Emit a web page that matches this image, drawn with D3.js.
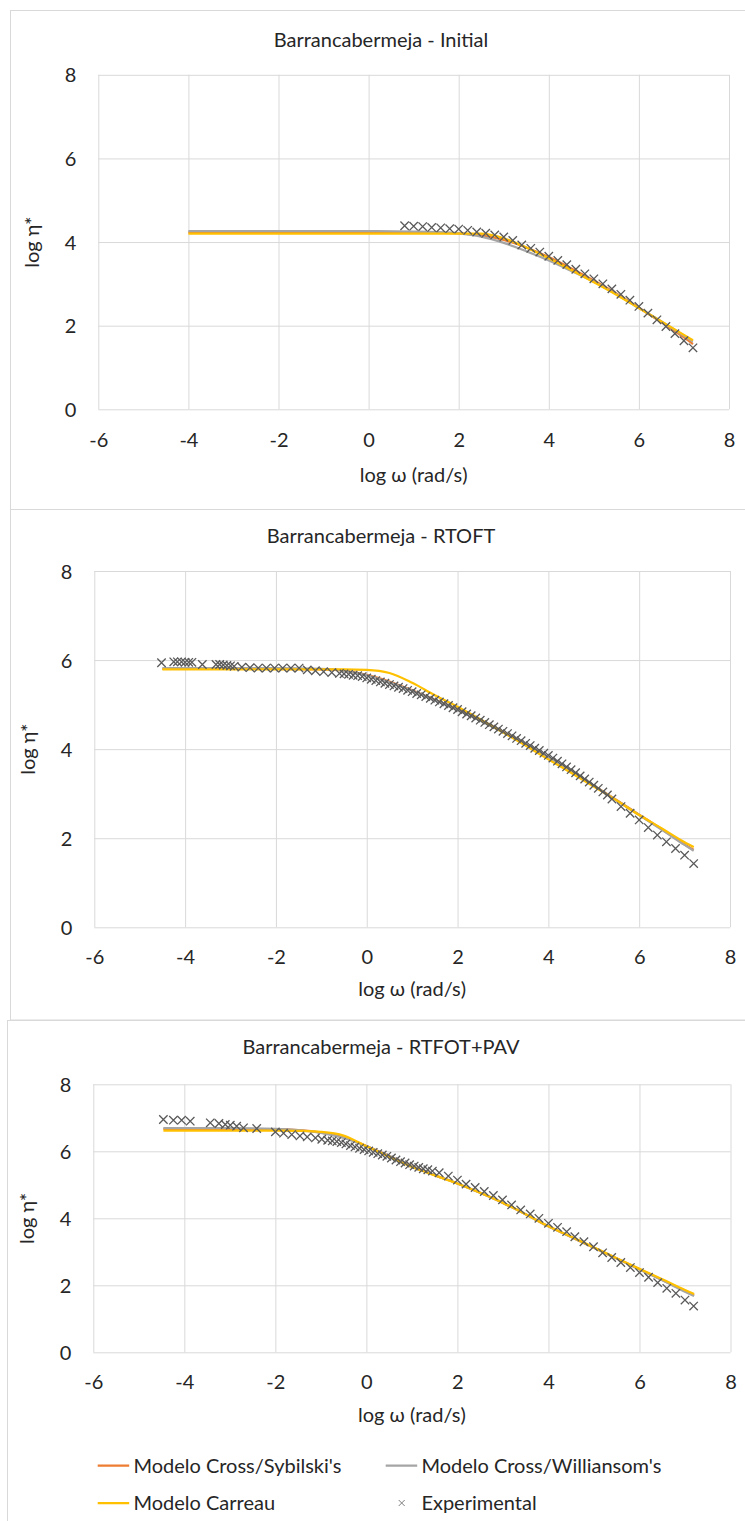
<!DOCTYPE html>
<html><head><meta charset="utf-8">
<script src="https://cdn.jsdelivr.net/npm/d3@7"></script>
<style>
html,body{margin:0;padding:0;background:#fff;}
svg text{font-family:Lato,"Open Sans",sans-serif;fill:#262626;}
</style></head>
<body><svg id="c" width="745" height="1521"></svg>
<script>
// ---------- DATA ----------
const xTicks = [-6,-4,-2,0,2,4,6,8];
const yTicks = [0,2,4,6,8];
const seriesNames = ["Modelo Cross/Sybilski's","Modelo Cross/Williansom's","Modelo Carreau","Experimental"];
const titles = ["Barrancabermeja - Initial","Barrancabermeja - RTOFT","Barrancabermeja - RTFOT+PAV"];

// Panel 1 (Initial)
const p1ModelX     = [-4,-2,0,1,1.5,2,2.5,3,3.5,4,4.5,5,5.5,6,6.5,7,7.2];
const p1Sybilski   = [4.23,4.23,4.23,4.23,4.22,4.21,4.16,4.05,3.87,3.64,3.37,3.08,2.77,2.43,2.08,1.72,1.56];
const p1Williamson = [4.26,4.26,4.26,4.25,4.24,4.21,4.13,3.98,3.78,3.56,3.31,3.05,2.75,2.42,2.10,1.76,1.62];
const p1Carreau    = [4.20,4.20,4.20,4.20,4.20,4.20,4.20,4.09,3.87,3.61,3.33,3.04,2.74,2.42,2.10,1.78,1.65];
const p1ExpX = [0.8,1.0,1.2,1.4,1.6,1.8,2.0,2.2,2.4,2.6,2.8,3.0,3.2,3.4,3.6,3.8,4.0,4.2,4.4,4.6,4.8,5.0,5.2,5.4,5.6,5.8,6.0,6.2,6.4,6.6,6.8,7.0,7.2];
const p1ExpY = [4.39,4.38,4.37,4.35,4.34,4.32,4.31,4.28,4.24,4.21,4.17,4.12,4.04,3.93,3.85,3.76,3.66,3.56,3.46,3.35,3.24,3.12,3.00,2.88,2.75,2.61,2.46,2.30,2.14,1.98,1.81,1.64,1.47];

// Panel 2 (RTOFT)
const p2ModelX     = [-4.5,-3,-2,-1,-0.5,0,0.5,1,1.5,2,2.5,3,3.5,4,4.5,5,5.5,6,6.5,7,7.2];
const p2Sybilski   = [5.80,5.80,5.80,5.79,5.76,5.67,5.52,5.32,5.11,4.89,4.65,4.39,4.10,3.80,3.50,3.18,2.86,2.53,2.20,1.86,1.74];
const p2Williamson = [5.82,5.82,5.82,5.80,5.76,5.66,5.50,5.31,5.10,4.88,4.64,4.38,4.10,3.80,3.50,3.18,2.85,2.52,2.19,1.85,1.72];
const p2Carreau    = [5.79,5.79,5.79,5.79,5.79,5.78,5.71,5.49,5.21,4.95,4.67,4.38,4.08,3.77,3.47,3.16,2.85,2.52,2.22,1.91,1.80];
const p2ExpX = [-4.52,-4.25,-4.17,-4.08,-4.0,-3.92,-3.85,-3.62,-3.32,-3.24,-3.16,-3.08,-3.0,-2.92,-2.75,-2.57,-2.39,-2.21,-2.03,-1.85,-1.67,-1.49,-1.31,-1.13,-0.95,-0.77,
  -0.6,-0.5,-0.4,-0.3,-0.2,-0.1,0.0,0.1,0.2,0.3,0.4,0.5,0.6,0.7,0.8,0.9,1.0,1.1,1.2,1.3,1.4,1.5,1.6,1.7,1.8,1.9,2.0,2.1,2.2,2.3,2.4,2.5,2.6,2.7,2.8,2.9,
  3.0,3.1,3.2,3.3,3.4,3.5,3.6,3.7,3.8,3.9,4.0,4.1,4.2,4.3,4.4,4.5,4.6,4.7,4.8,4.9,5.0,5.1,5.2,5.3,5.4,5.6,5.8,6.0,6.2,6.4,6.6,6.8,7.0,7.2];
const p2ExpY = [5.94,5.96,5.96,5.96,5.95,5.95,5.95,5.90,5.90,5.90,5.89,5.88,5.87,5.86,5.84,5.83,5.82,5.82,5.82,5.82,5.82,5.82,5.78,5.76,5.74,5.72,
  5.70,5.69,5.68,5.66,5.65,5.63,5.60,5.57,5.54,5.51,5.48,5.45,5.42,5.39,5.36,5.32,5.29,5.25,5.22,5.18,5.14,5.10,5.06,5.02,4.98,4.93,4.89,4.84,4.79,4.75,4.70,4.65,4.60,4.55,4.50,4.45,
  4.40,4.35,4.30,4.24,4.19,4.13,4.08,4.02,3.97,3.91,3.86,3.80,3.73,3.67,3.60,3.54,3.47,3.40,3.33,3.26,3.19,3.12,3.04,2.97,2.88,2.71,2.56,2.41,2.24,2.07,1.92,1.77,1.62,1.43];

// Panel 3 (RTFOT+PAV)
const p3ModelX     = [-4.46,-3,-2,-1.5,-1,-0.5,0,0.5,1,1.5,2,2.5,3,3.5,4,4.5,5,5.5,6,6.5,7,7.2];
const p3Sybilski   = [6.67,6.67,6.66,6.63,6.56,6.42,6.16,5.86,5.56,5.29,5.04,4.76,4.46,4.12,3.76,3.44,3.12,2.80,2.48,2.16,1.83,1.70];
const p3Williamson = [6.69,6.69,6.67,6.63,6.55,6.40,6.15,5.86,5.56,5.29,5.04,4.76,4.46,4.12,3.76,3.44,3.12,2.80,2.47,2.15,1.81,1.68];
const p3Carreau    = [6.62,6.62,6.62,6.61,6.58,6.47,6.15,5.84,5.53,5.28,5.04,4.76,4.46,4.12,3.76,3.45,3.13,2.81,2.49,2.18,1.86,1.74];
const p3ExpX = [-4.46,-4.24,-4.06,-3.87,-3.43,-3.24,-3.10,-2.99,-2.85,-2.70,-2.41,-2.0,-1.82,-1.64,-1.46,-1.30,-1.12,-0.98,-0.85,-0.75,-0.65,-0.55,
  -0.45,-0.35,-0.25,-0.15,-0.05,0.05,0.15,0.25,0.35,0.45,0.55,0.65,0.75,0.85,0.95,1.05,1.15,1.25,1.35,1.45,1.6,1.8,2.0,
  2.19,2.39,2.59,2.79,2.99,3.19,3.39,3.6,3.79,4.0,4.2,4.4,4.58,4.78,4.99,5.19,5.39,5.59,5.8,6.0,6.2,6.4,6.6,6.8,7.0,7.19];
const p3ExpY = [6.95,6.93,6.93,6.90,6.85,6.83,6.80,6.78,6.75,6.70,6.68,6.58,6.54,6.50,6.46,6.43,6.40,6.36,6.33,6.31,6.29,6.26,
  6.22,6.17,6.13,6.09,6.05,6.01,5.97,5.93,5.89,5.85,5.80,5.74,5.69,5.65,5.60,5.56,5.52,5.48,5.45,5.41,5.36,5.26,5.14,
  5.02,4.92,4.80,4.68,4.55,4.40,4.25,4.13,4.00,3.85,3.73,3.60,3.45,3.30,3.15,2.97,2.83,2.68,2.53,2.38,2.24,2.08,1.91,1.76,1.56,1.38];

const colors = {syb:"#ED7D31", wil:"#A5A5A5", car:"#FFC000", exp:"#595959", grid:"#D9D9D9"};

// ---------- LAYOUT ----------
const panels = [
  {box:[10.5,10.5,760,499], plot:{l:98.3,r:729,t:74.8,b:409.3}, titleY:40, tickY:31, axTitleY:475,
   mx:p1ModelX, syb:p1Sybilski, wil:p1Williamson, car:p1Carreau, ex:p1ExpX, ey:p1ExpY},
  {box:[10.5,509.5,760,510.5], plot:{l:94.3,r:730,t:571,b:927.3}, titleY:535.7, tickY:29.5, axTitleY:989,
   mx:p2ModelX, syb:p2Sybilski, wil:p2Williamson, car:p2Carreau, ex:p2ExpX, ey:p2ExpY},
  {box:[7.5,1020.5,770,520], plot:{l:93.3,r:730.5,t:1084.3,b:1352.3}, titleY:1046.7, tickY:29.5, axTitleY:1415,
   mx:p3ModelX, syb:p3Sybilski, wil:p3Williamson, car:p3Carreau, ex:p3ExpX, ey:p3ExpY}
];
const FS = 20;
const svg = d3.select("#c");

panels.forEach((p,i)=>{
  const [bx,by,bw,bh] = p.box;
  svg.append("rect").attr("x",bx).attr("y",by).attr("width",bw).attr("height",bh)
    .attr("fill","#fff").attr("stroke",colors.grid).attr("stroke-width",1);
});

panels.forEach((p,i)=>{
  const P = p.plot;
  const x = d3.scaleLinear().domain([-6,8]).range([P.l,P.r]);
  const y = d3.scaleLinear().domain([0,8]).range([P.b,P.t]);
  const g = svg.append("g");

  g.append("text").attr("x",381).attr("y",p.titleY).attr("dy","0.35em")
    .attr("text-anchor","middle").style("font-size",FS+"px").text(titles[i]);

  const ax = g.append("g").attr("transform",`translate(0,${P.b})`)
    .call(d3.axisBottom(x).tickValues(xTicks).tickSize(-(P.b-P.t)).tickFormat(d=>String(d)));
  ax.select(".domain").remove();
  ax.selectAll("line").attr("stroke",colors.grid).attr("stroke-width",1);
  ax.selectAll("text").attr("y",p.tickY).attr("dy","0.35em").style("font-size",FS+"px").attr("fill","#262626");

  const ay = g.append("g").attr("transform",`translate(${P.l},0)`)
    .call(d3.axisLeft(y).tickValues(yTicks).tickSize(-(P.r-P.l)).tickFormat(d=>String(d)));
  ay.select(".domain").remove();
  ay.selectAll("line").attr("stroke",colors.grid).attr("stroke-width",1);
  ay.selectAll("text").attr("x",-22).attr("dy","0.35em").style("font-size",FS+"px").attr("fill","#262626");

  g.append("text").attr("x",(P.l+P.r)/2).attr("y",p.axTitleY).attr("dy","0.35em")
    .attr("text-anchor","middle").style("font-size",FS+"px").text("log ω (rad/s)");
  g.append("text").attr("transform",`translate(${P.l-66},${(P.t+P.b)/2}) rotate(-90)`).attr("dy","0.35em")
    .attr("text-anchor","middle").style("font-size",FS+"px").text("log η*");

  const line = d3.line().x(d=>x(d[0])).y(d=>y(d[1])).curve(d3.curveMonotoneX);
  [["syb",colors.syb],["wil",colors.wil],["car",colors.car]].forEach(([k,c])=>{
    g.append("path").datum(p.mx.map((v,j)=>[v,p[k][j]]))
      .attr("d",line).attr("fill","none").attr("stroke",c).attr("stroke-width",2.25);
  });
  const r = 4.2;
  g.append("g").selectAll("path").data(p.ex.map((v,j)=>[v,p.ey[j]])).join("path")
    .attr("d",d=>{const cx=x(d[0]),cy=y(d[1]);return `M${cx-r},${cy-r}L${cx+r},${cy+r}M${cx-r},${cy+r}L${cx+r},${cy-r}`;})
    .attr("stroke",colors.exp).attr("stroke-width",1.3).attr("fill","none");
});

// ---------- LEGEND ----------
const leg = svg.append("g");
const legItems = [
  {name:seriesNames[0], c:colors.syb, lx:97.7, ly:1465.7, t:"line"},
  {name:seriesNames[1], c:colors.wil, lx:385.7, ly:1465.7, t:"line"},
  {name:seriesNames[2], c:colors.car, lx:97.7, ly:1503, t:"line"},
  {name:seriesNames[3], c:"#7f7f7f", lx:385.7, ly:1503, t:"x"}
];
legItems.forEach(d=>{
  if(d.t==="line"){
    leg.append("line").attr("x1",d.lx).attr("x2",d.lx+31.5).attr("y1",d.ly).attr("y2",d.ly)
      .attr("stroke",d.c).attr("stroke-width",2.25);
  } else {
    const cx=d.lx+16, cy=d.ly, r=3;
    leg.append("path").attr("d",`M${cx-r},${cy-r}L${cx+r},${cy+r}M${cx-r},${cy+r}L${cx+r},${cy-r}`)
      .attr("stroke",d.c).attr("stroke-width",1);
  }
  leg.append("text").attr("x",d.lx+35.7).attr("y",d.ly).attr("dy","0.35em").style("font-size",FS+"px").text(d.name);
});
</script></body></html>
